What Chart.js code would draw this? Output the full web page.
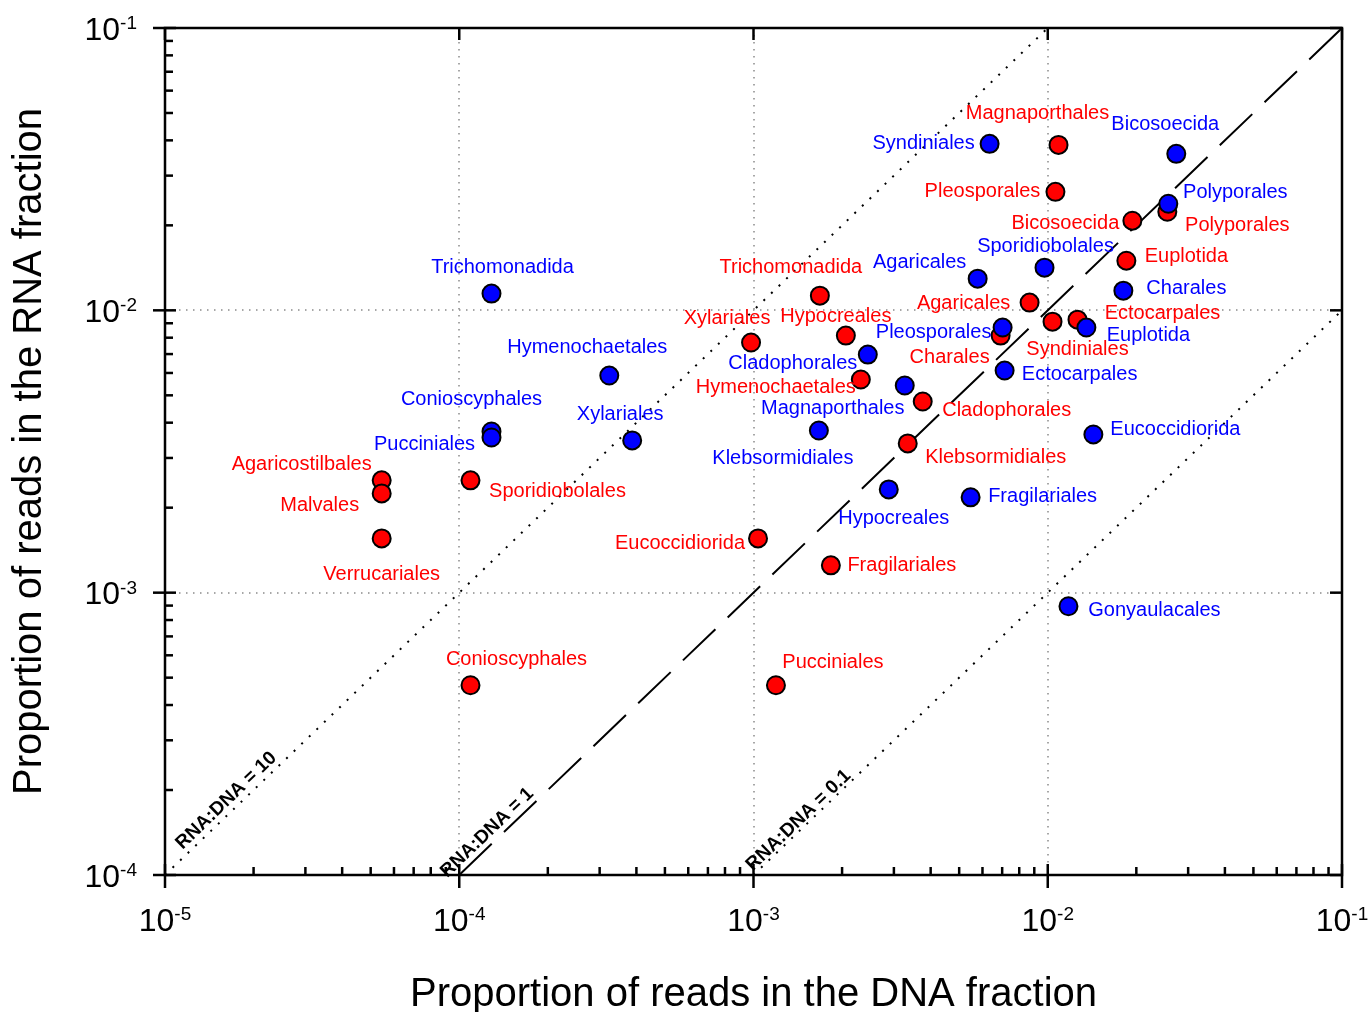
<!DOCTYPE html>
<html>
<head>
<meta charset="utf-8">
<title>RNA vs DNA read proportions</title>
<script src="https://cdn.jsdelivr.net/npm/chart.js@4.4.1/dist/chart.umd.min.js"></script>
<style>
    html, body { margin: 0; padding: 0; background: #fff; }
    #wrap { width: 1372px; height: 1012px; }
</style>
</head>
<body>
<div id="wrap"><canvas id="myChart" width="1372" height="1012"></canvas></div>
<script>
// axis decades
var xTicks = [1e-5, 1e-4, 1e-3, 1e-2, 1e-1];
var yTicks = [1e-4, 1e-3, 1e-2, 1e-1];

// red series
var redNames = ['Magnaporthales', 'Pleosporales', 'Bicosoecida', 'Polyporales', 'Euplotida', 'Agaricales',
    'Syndiniales', 'Ectocarpales', 'Charales', 'Hypocreales', 'Trichomonadida', 'Xylariales', 'Hymenochaetales',
    'Cladophorales', 'Klebsormidiales', 'Eucoccidiorida', 'Fragilariales', 'Pucciniales', 'Conioscyphales',
    'Agaricostilbales', 'Malvales', 'Verrucariales', 'Sporidiobolales'];
var redDNA = [0.01088, 0.01062, 0.01939, 0.02549, 0.0185, 0.008675,
    0.01038, 0.01262, 0.006915, 0.00206, 0.001681, 0.000981, 0.002316,
    0.003759, 0.003343, 0.001036, 0.001832, 0.001192, 0.0001092,
    0.0000545, 0.0000545, 0.0000545, 0.0001092];
var redRNA = [0.03855, 0.02629, 0.02077, 0.02234, 0.01499, 0.01065,
    0.00912, 0.00927, 0.00814, 0.00814, 0.01127, 0.00769, 0.005688,
    0.004754, 0.003377, 0.001557, 0.00125, 0.00047, 0.00047,
    0.0025, 0.002247, 0.001557, 0.0025];

// blue series
var blueNames = ['Syndiniales', 'Bicosoecida', 'Polyporales', 'Sporidiobolales', 'Agaricales', 'Charales',
    'Euplotida', 'Pleosporales', 'Ectocarpales', 'Cladophorales', 'Magnaporthales', 'Klebsormidiales',
    'Hypocreales', 'Fragilariales', 'Eucoccidiorida', 'Gonyaulacales', 'Trichomonadida', 'Hymenochaetales',
    'Xylariales', 'Conioscyphales', 'Pucciniales'];
var blueDNA = [0.006344, 0.02734, 0.02569, 0.00975, 0.005778, 0.01807,
    0.01353, 0.007024, 0.007135, 0.002446, 0.003266, 0.001668,
    0.002882, 0.005468, 0.01429, 0.01176, 0.0001287, 0.0003235,
    0.000387, 0.0001287, 0.0001287];
var blueRNA = [0.03888, 0.03583, 0.02385, 0.01416, 0.01295, 0.01174,
    0.00869, 0.00869, 0.00612, 0.00697, 0.005416, 0.003753,
    0.002321, 0.002176, 0.003634, 0.000895, 0.01146, 0.005875,
    0.003461, 0.003723, 0.003545];

// reference lines
var ratios = [10, 1, 0.1];
var ratioLabels = ['RNA:DNA = 10', 'RNA:DNA = 1', 'RNA:DNA = 0.1'];

// where each label sits relative to its point (px, text centre)
var redLabelOff = [[-21, -31], [-73, 0], [-67, 3], [70, 14], [60, -4], [-66, 1],
    [25, 28], [85, -6], [-51, 22], [-10, -19], [-29, -28], [-24, -24], [-85, 8],
    [84, 9], [88, 14], [-78, 5], [71, 0], [57, -23], [46, -26],
    [-80, -16], [-62, 12], [0, 36], [87, 11]];
var blueLabelOff = [[-66, 0], [-11, -29], [67, -11], [1, -21], [-58, -16], [63, -2],
    [62, 8], [-69, 5], [75, 4], [-75, 9], [-72, 23], [-36, 28],
    [5, 29], [72, -1], [82, -5], [86, 4], [11, -26], [-22, -28],
    [-12, -26], [-20, -32], [-67, 7]];
// ratio label: distance along the line from its start, and distance above it
var ratioLabelAlong = [30, -11, 2];
var ratioLabelAbove = [6, 6, 3];

var fontFam = '"Liberation Sans", Arial, sans-serif';
var xMin = xTicks[0], xMax = xTicks[xTicks.length - 1];
var yMin = yTicks[0], yMax = yTicks[yTicks.length - 1];

function pts(xs, ys) {
    return xs.map(function (x, i) { return { x: x, y: ys[i] }; });
}

function ratioLine(r) {
    var x0 = Math.max(xMin, yMin / r), x1 = Math.min(xMax, yMax / r);
    return [{ x: x0, y: r * x0 }, { x: x1, y: r * x1 }];
}

function seg(ctx, x0, y0, x1, y1) {
    ctx.beginPath();
    ctx.moveTo(x0, y0);
    ctx.lineTo(x1, y1);
    ctx.stroke();
}

// "10" with a superscript exponent
function powLabel(ctx, v, x, y, align) {
    var exp = String(Math.round(Math.log10(v)));
    ctx.font = '32px ' + fontFam;
    var wb = ctx.measureText('10').width;
    ctx.font = '19px ' + fontFam;
    var we = ctx.measureText(exp).width;
    var left = align === 'right' ? x - wb - we : x - (wb + we) / 2;
    ctx.textAlign = 'left';
    ctx.textBaseline = 'alphabetic';
    ctx.font = '32px ' + fontFam;
    ctx.fillText('10', left, y + 11.5);
    ctx.font = '19px ' + fontFam;
    ctx.fillText(exp, left + wb, y + 1);
}

var axesPlugin = {
    id: 'axesPlugin',
    beforeDatasetsDraw: function (chart) {
        var ctx = chart.ctx, a = chart.chartArea, xs = chart.scales.x, ys = chart.scales.y;
        ctx.save();
        ctx.strokeStyle = '#8a8a8a';
        ctx.lineWidth = 1.5;
        ctx.setLineDash([1.5, 5.5]);
        xTicks.slice(1, -1).forEach(function (v) {
            var px = Math.round(xs.getPixelForValue(v));
            seg(ctx, px, a.top, px, a.bottom);
        });
        yTicks.slice(1, -1).forEach(function (v) {
            var py = Math.round(ys.getPixelForValue(v));
            seg(ctx, a.left, py, a.right, py);
        });
        ctx.restore();
    },
    afterDatasetsDraw: function (chart) {
        var ctx = chart.ctx, a = chart.chartArea, xs = chart.scales.x, ys = chart.scales.y;
        ctx.save();

        // point labels
        ctx.font = '20px ' + fontFam;
        ctx.textAlign = 'center';
        ctx.textBaseline = 'middle';
        [[1, redNames, redLabelOff, '#ff0000'], [0, blueNames, blueLabelOff, '#0000ff']].forEach(function (s) {
            var meta = chart.getDatasetMeta(s[0]);
            ctx.fillStyle = s[3];
            meta.data.forEach(function (el, i) {
                ctx.fillText(s[1][i], el.x + s[2][i][0], el.y + s[2][i][1]);
            });
        });

        // ratio line labels
        ctx.fillStyle = '#000';
        ctx.font = 'bold 19px ' + fontFam;
        ctx.textAlign = 'left';
        ctx.textBaseline = 'alphabetic';
        ratios.forEach(function (r, i) {
            var ln = ratioLine(r);
            var x0 = xs.getPixelForValue(ln[0].x), y0 = ys.getPixelForValue(ln[0].y);
            var x1 = xs.getPixelForValue(ln[1].x), y1 = ys.getPixelForValue(ln[1].y);
            var ang = Math.atan2(y1 - y0, x1 - x0);
            var ux = Math.cos(ang), uy = Math.sin(ang);
            var px = x0 + ux * ratioLabelAlong[i] + uy * ratioLabelAbove[i];
            var py = y0 + uy * ratioLabelAlong[i] - ux * ratioLabelAbove[i];
            ctx.save();
            ctx.translate(px, py);
            ctx.rotate(ang);
            ctx.fillText(ratioLabels[i], 0, 0);
            ctx.restore();
        });

        // frame and ticks
        ctx.strokeStyle = '#000';
        ctx.lineWidth = 2.5;
        ctx.setLineDash([]);
        ctx.lineCap = 'butt';
        ctx.strokeRect(a.left, a.top, a.right - a.left, a.bottom - a.top);
        xTicks.forEach(function (d, k) {
            var px = xs.getPixelForValue(d);
            seg(ctx, px, a.bottom + 13, px, a.bottom - 11);
            seg(ctx, px, a.top, px, a.top + 12);
            if (k < xTicks.length - 1) {
                for (var m = 2; m <= 9; m++) {
                    var mx = xs.getPixelForValue(m * d);
                    seg(ctx, mx, a.bottom, mx, a.bottom - 8);
                }
            }
        });
        yTicks.forEach(function (d, k) {
            var py = ys.getPixelForValue(d);
            seg(ctx, a.left - 12, py, a.left + 11, py);
            seg(ctx, a.right, py, a.right - 12, py);
            if (k < yTicks.length - 1) {
                for (var m = 2; m <= 9; m++) {
                    var my = ys.getPixelForValue(m * d);
                    seg(ctx, a.left, my, a.left + 8, my);
                }
            }
        });

        // tick labels
        ctx.fillStyle = '#000';
        xTicks.forEach(function (d) {
            powLabel(ctx, d, xs.getPixelForValue(d), a.bottom + 44, 'center');
        });
        yTicks.forEach(function (d) {
            powLabel(ctx, d, a.left - 28, ys.getPixelForValue(d), 'right');
        });

        // axis titles
        ctx.font = '40px ' + fontFam;
        ctx.textAlign = 'center';
        ctx.textBaseline = 'middle';
        ctx.fillText('Proportion of reads in the DNA fraction', (a.left + a.right) / 2, 995);
        ctx.save();
        ctx.translate(30, (a.top + a.bottom) / 2);
        ctx.rotate(-Math.PI / 2);
        ctx.fillText('Proportion of reads in the RNA fraction', 0, 0);
        ctx.restore();

        ctx.restore();
    }
};

var data = {
    datasets: [{
        label: 'blue',
        data: pts(blueDNA, blueRNA),
        backgroundColor: '#0000ff',
        borderColor: '#000',
        borderWidth: 2,
        pointRadius: 9,
        order: 0
    },
    {
        label: 'red',
        data: pts(redDNA, redRNA),
        backgroundColor: '#ff0000',
        borderColor: '#000',
        borderWidth: 2,
        pointRadius: 9,
        order: 1
    }]
};

ratios.forEach(function (r) {
    data.datasets.push({
        label: 'RNA:DNA = ' + r,
        data: ratioLine(r),
        showLine: true,
        borderColor: '#000',
        borderWidth: 2,
        borderDash: r === 1 ? [45, 17] : [2, 8.5],
        pointRadius: 0,
        fill: false,
        order: 2
    });
});

var options = {
    responsive: false,
    animation: false,
    devicePixelRatio: 1,
    events: [],
    layout: { padding: { top: 28, right: 30, left: 0, bottom: 0 } },
    plugins: { legend: { display: false }, tooltip: { enabled: false } },
    scales: {
        x: {
            type: 'logarithmic',
            min: xMin,
            max: xMax,
            ticks: { display: false },
            grid: { display: false },
            border: { display: false },
            afterFit: function (s) { s.height = 137; }
        },
        y: {
            type: 'logarithmic',
            min: yMin,
            max: yMax,
            ticks: { display: false },
            grid: { display: false },
            border: { display: false },
            afterFit: function (s) { s.width = 165; }
        }
    }
};

var ctx = document.getElementById('myChart').getContext('2d');
var myChart = new Chart(ctx, {
    type: 'scatter',
    data: data,
    options: options,
    plugins: [axesPlugin]
});
</script>
</body>
</html>
